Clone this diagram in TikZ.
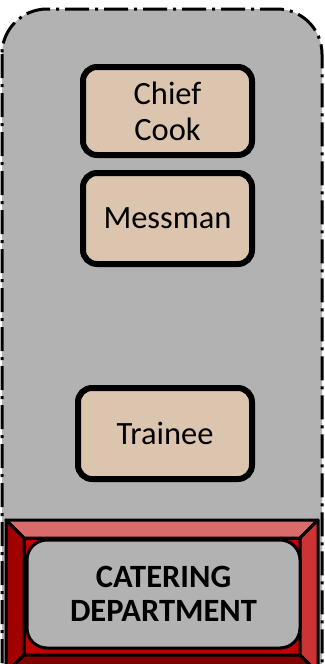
\documentclass[tikz,border=0pt]{standalone}
\usepackage{fontspec}
\setmainfont{Carlito}
\usepackage{tikz}
\usetikzlibrary{calc}

\begin{document}
\begin{tikzpicture}[x=1pt,y=-1pt]
  % Colors
  \colorlet{panel}{black!30}
  \definecolor{crew}{RGB}{219,197,174}
  \definecolor{bevelT}{RGB}{217,107,107}
  \definecolor{bevelL}{RGB}{160,0,0}
  \definecolor{bevelR}{RGB}{204,51,51}
  \definecolor{bevelB}{RGB}{128,0,0}
  \definecolor{bevelC}{RGB}{192,0,0}
  % Styles
  \tikzstyle{container}=[fill=panel,draw=black,line width=3pt,rounded corners=45pt,
    dash pattern=on 24pt off 6pt on 3pt off 6pt]
  \tikzstyle{rank}=[draw=black,fill=crew,line width=6pt,rounded corners=14pt,
    align=center,font=\fontsize{32.5}{36}\selectfont,inner sep=0pt]
  \tikzstyle{bevel}=[draw=black,line width=3pt,line join=round]
  \tikzstyle{dept}=[draw=black,fill=panel,line width=3pt,rounded corners=20pt,
    align=center,font=\fontsize{32.5}{34}\selectfont\bfseries,inner sep=0pt]

  \useasboundingbox (0,0) rectangle (324,664);
  \clip (0,0) rectangle (324,664);

  % The graphic
  \draw[style=container] (2,9) rectangle (322,720);

  \node[rank,minimum width=169pt,minimum height=88pt] (chief) at (167.5,111) {Chief\\Cook};
  \node[rank,minimum width=169pt,minimum height=91pt] (messman) at (167.5,218.5) {Messman};
  \node[rank,minimum width=174pt,minimum height=91pt] (trainee) at (165,433.5) {Trainee};

  % bevel frame of the department
  \coordinate (o1) at (6,520);   \coordinate (o2) at (318,520);
  \coordinate (o3) at (318,673); \coordinate (o4) at (6,673);
  \coordinate (i1) at (24,538);  \coordinate (i2) at (300,538);
  \coordinate (i3) at (300,655); \coordinate (i4) at (24,655);
  \filldraw[bevel,fill=bevelC] (i1) -- (i2) -- (i3) -- (i4) -- cycle;
  \filldraw[bevel,fill=bevelT] (o1) -- (o2) -- (i2) -- (i1) -- cycle;
  \filldraw[bevel,fill=bevelL] (o1) -- (i1) -- (i4) -- (o4) -- cycle;
  \filldraw[bevel,fill=bevelR] (o2) -- (o3) -- (i3) -- (i2) -- cycle;
  \filldraw[bevel,fill=bevelB] (o4) -- (i4) -- (i3) -- (o3) -- cycle;

  \node[dept,minimum width=273pt,minimum height=108pt] (catering) at (163.5,594)
    {CATERING\\DEPARTMENT};
\end{tikzpicture}
\end{document}
